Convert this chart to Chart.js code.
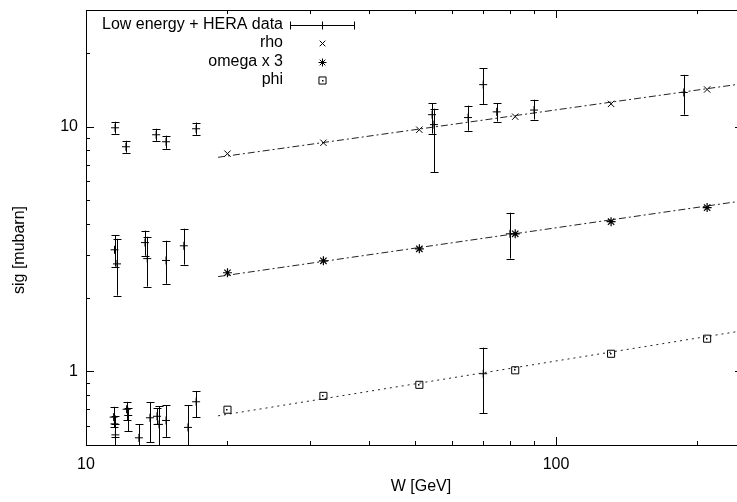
<!DOCTYPE html>
<html><head><meta charset="utf-8">
<script src="https://cdn.jsdelivr.net/npm/chart.js@4"></script>
<style>html,body{margin:0;padding:0;overflow:hidden;background:#fff}canvas{display:block}</style>
</head><body>
<canvas id="c" width="750" height="502"></canvas>
<script>
// ---- axis setup ----
const xRange = [10, 250];
const yRange = [0.5, 30];
const xMajorTicks = [10, 100];
const xMinorTicks = [20, 30, 40, 50, 60, 70, 80, 90, 200];
const yMajorTicks = [1, 10];
const yMinorTicks = [0.5, 0.6, 0.7, 0.8, 0.9, 2, 3, 4, 5, 6, 7, 8, 9, 20, 30];
const xTitle = "W [GeV]";
const yTitle = "sig [mubarn]";
const legendLabels = ["Low energy + HERA data", "rho", "omega x 3", "phi"];

// ---- model points ----
const modelW = [20, 32, 51.2, 81.9, 131, 209.7];
const rhoSig = [7.76, 8.6, 9.72, 10.99, 12.4, 14.2];
const omegaSig = [2.53, 2.83, 3.17, 3.65, 4.09, 4.67];
const phiSig = [0.697, 0.794, 0.881, 1.01, 1.18, 1.36];

// ---- fit lines ----
const fitW = [19.1, 250];
const rhoFit = [7.5, 15.0];
const omegaFit = [2.44, 4.98];
const phiFit = [0.658, 1.467];

// ---- measured data with error bars ----
const rhoDataW  = [11.53, 12.16, 14.1, 14.8, 17.15, 54.5, 55.0, 65.0, 70.0, 74.8, 89.8, 187];
const rhoDataS  = [9.9, 8.28, 9.27, 8.68, 9.81, 11.2, 10.2, 10.9, 14.86, 11.5, 11.7, 13.8];
const rhoDataLo = [9.36, 7.83, 8.76, 8.13, 9.27, 9.37, 6.5, 9.63, 12.4, 10.5, 10.7, 11.2];
const rhoDataHi = [10.48, 8.76, 9.81, 9.19, 10.4, 12.5, 11.85, 12.2, 17.3, 12.5, 12.9, 16.3];

const omegaDataW  = [11.5, 11.64, 13.35, 13.5, 14.8, 16.15, 79.8];
const omegaDataS  = [3.14, 2.75, 3.36, 2.89, 2.84, 3.26, 3.65];
const omegaDataLo = [2.68, 2.04, 2.97, 2.22, 2.28, 2.73, 2.89];
const omegaDataHi = [3.61, 3.48, 3.76, 3.55, 3.42, 3.83, 4.45];

const phiDataW  = [11.45, 11.5, 11.55, 12.2, 12.3, 12.96, 13.68, 14.16, 14.3, 14.8, 16.48, 17.15, 70.0];
const phiDataS  = [0.65, 0.61, 0.55, 0.70, 0.66, 0.535, 0.646, 0.655, 0.607, 0.63, 0.59, 0.751, 0.978];
const phiDataLo = [0.59, 0.54, 0.45, 0.63, 0.57, 0.45, 0.513, 0.607, 0.45, 0.54, 0.45, 0.649, 0.673];
const phiDataHi = [0.716, 0.66, 0.61, 0.75, 0.71, 0.607, 0.747, 0.706, 0.719, 0.726, 0.726, 0.828, 1.25];

const FONT = '16px "Liberation Sans", Arial, Helvetica, sans-serif';
const pts = (xs, ys) => xs.map((x, i) => ({x: x, y: ys[i]}));

function dataSet(xs, ys, lo, hi) {
  return {data: pts(xs, ys), pointStyle: 'cross', pointRadius: 4, borderColor: '#000',
          borderWidth: 1, showLine: false, errLo: lo, errHi: hi};
}
function fitSet(ys, dash) {
  return {data: pts(fitW, ys), showLine: true, pointRadius: 0, borderColor: '#222',
          borderWidth: 1, borderDash: dash, fill: false};
}

const drawPlugin = {
  id: 'gp',
  afterDatasetsDraw(chart) {
    const ctx = chart.ctx, a = chart.chartArea, xs = chart.scales.x, ys = chart.scales.y;
    ctx.save();
    ctx.beginPath(); ctx.rect(a.left, a.top, a.right - a.left, a.bottom - a.top); ctx.clip();
    ctx.strokeStyle = '#000'; ctx.lineWidth = 1;
    chart.data.datasets.forEach(ds => {
      if (!ds.errLo) return;
      ds.data.forEach((p, i) => {
        const px = Math.round(xs.getPixelForValue(p.x)) + 0.5;
        const p1 = ys.getPixelForValue(ds.errLo[i]);
        const p2 = ys.getPixelForValue(ds.errHi[i]);
        ctx.beginPath();
        ctx.moveTo(px, p1); ctx.lineTo(px, p2);
        ctx.moveTo(px - 4, Math.round(p1) + 0.5); ctx.lineTo(px + 4, Math.round(p1) + 0.5);
        ctx.moveTo(px - 4, Math.round(p2) + 0.5); ctx.lineTo(px + 4, Math.round(p2) + 0.5);
        ctx.stroke();
      });
    });
    // center dots of phi boxes
    const meta = chart.getDatasetMeta(2);
    ctx.fillStyle = '#000';
    meta.data.forEach(el => ctx.fillRect(Math.round(el.x) - 1, Math.round(el.y) - 1, 1.5, 1.5));
    ctx.restore();
  },
  afterDraw(chart) {
    const ctx = chart.ctx, a = chart.chartArea, xs = chart.scales.x, ys = chart.scales.y;
    ctx.save();
    ctx.strokeStyle = '#000'; ctx.lineWidth = 1;
    ctx.strokeRect(a.left + 0.5, a.top + 0.5, a.right - a.left, a.bottom - a.top);
    const tickX = (v, len) => {
      const px = Math.round(xs.getPixelForValue(v)) + 0.5;
      ctx.beginPath();
      ctx.moveTo(px, a.bottom); ctx.lineTo(px, a.bottom - len);
      ctx.moveTo(px, a.top); ctx.lineTo(px, a.top + len);
      ctx.stroke();
    };
    const tickY = (v, len) => {
      const py = Math.round(ys.getPixelForValue(v)) + 0.5;
      ctx.beginPath();
      ctx.moveTo(a.left, py); ctx.lineTo(a.left + len, py);
      ctx.moveTo(a.right, py); ctx.lineTo(a.right - len, py);
      ctx.stroke();
    };
    xMajorTicks.forEach(v => tickX(v, 8));
    xMinorTicks.forEach(v => tickX(v, 4));
    yMajorTicks.forEach(v => tickY(v, 8));
    yMinorTicks.forEach(v => tickY(v, 4));

    ctx.fillStyle = '#000';
    ctx.font = FONT;
    ctx.textAlign = 'center'; ctx.textBaseline = 'middle';
    xMajorTicks.forEach(v => ctx.fillText(String(v), xs.getPixelForValue(v), a.bottom + 20));
    ctx.textAlign = 'right';
    yMajorTicks.forEach(v => ctx.fillText(String(v), a.left - 8, ys.getPixelForValue(v)));
    ctx.textAlign = 'center';
    ctx.fillText(xTitle, 421, a.bottom + 42);
    ctx.save();
    ctx.translate(20, 250);
    ctx.rotate(-Math.PI / 2);
    ctx.fillText(yTitle, 0, 0);
    ctx.restore();

    // legend (gnuplot style key)
    const kx = 283, sx = 322, rowY = [25, 43, 62, 80];
    ctx.textAlign = 'right';
    legendLabels.forEach((t, i) => ctx.fillText(t, kx, rowY[i]));
    // errorbar sample
    const y0 = rowY[0] + 0.5;
    ctx.beginPath();
    ctx.moveTo(290, y0); ctx.lineTo(355, y0);
    ctx.moveTo(290.5, y0 - 4); ctx.lineTo(290.5, y0 + 4);
    ctx.moveTo(354.5, y0 - 4); ctx.lineTo(354.5, y0 + 4);
    ctx.moveTo(sx + 0.5, y0 - 4); ctx.lineTo(sx + 0.5, y0 + 4);
    ctx.stroke();
    // marker samples
    const styles = ['crossRot', 'star', 'rect'];
    const radii = [4, 4, 5];
    ctx.fillStyle = 'rgba(0,0,0,0)';
    styles.forEach((st, i) => {
      Chart.helpers.drawPoint(ctx, {pointStyle: st, radius: radii[i], borderWidth: 1}, sx + 0.5, rowY[i + 1] + 0.5);
    });
    ctx.fillStyle = '#000';
    ctx.fillRect(sx, rowY[3], 1.5, 1.5);
    ctx.restore();
  }
};

new Chart(document.getElementById('c'), {
  type: 'scatter',
  data: {
    datasets: [
      {data: pts(modelW, rhoSig), pointStyle: 'crossRot', pointRadius: 4.5, borderColor: '#000', borderWidth: 1, backgroundColor: 'transparent', showLine: false},
      {data: pts(modelW, omegaSig), pointStyle: 'star', pointRadius: 4.5, borderColor: '#000', borderWidth: 1.2, backgroundColor: 'transparent', showLine: false},
      {data: pts(modelW, phiSig), pointStyle: 'rect', pointRadius: 5, borderColor: '#000', borderWidth: 1, backgroundColor: 'transparent', showLine: false},
      fitSet(rhoFit, [7, 3, 2, 3]),
      fitSet(omegaFit, [7, 3, 2, 3]),
      fitSet(phiFit, [2, 4]),
      dataSet(rhoDataW, rhoDataS, rhoDataLo, rhoDataHi),
      dataSet(omegaDataW, omegaDataS, omegaDataLo, omegaDataHi),
      dataSet(phiDataW, phiDataS, phiDataLo, phiDataHi)
    ]
  },
  options: {
    responsive: false, animation: false, devicePixelRatio: 1,
    layout: {padding: {left: 86, top: 10, right: 7, bottom: 57}},
    plugins: {legend: {display: false}, tooltip: {enabled: false}},
    scales: {
      x: {type: 'logarithmic', min: xRange[0], max: xRange[1], display: false},
      y: {type: 'logarithmic', min: yRange[0], max: yRange[1], display: false}
    }
  },
  plugins: [drawPlugin]
});
</script></body></html>
